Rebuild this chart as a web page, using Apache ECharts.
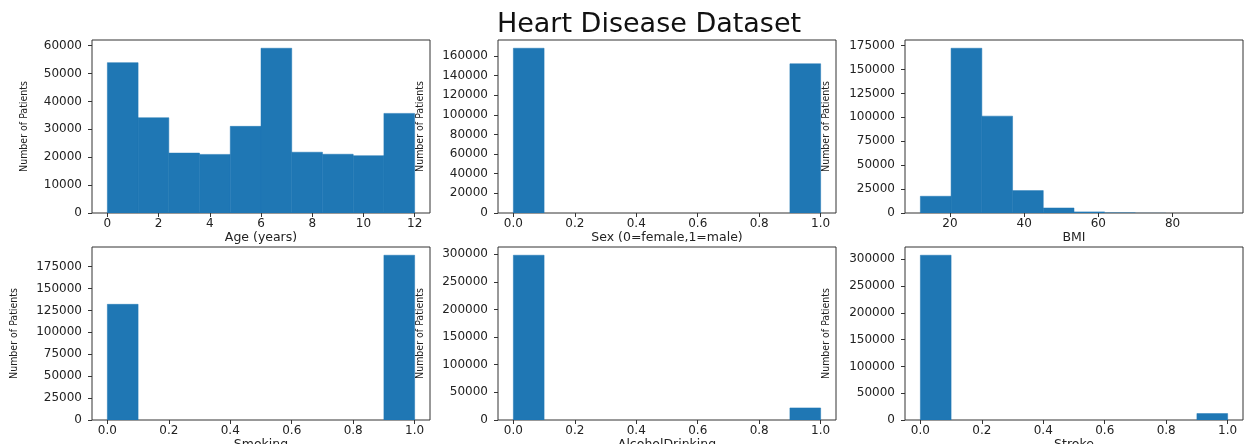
<!DOCTYPE html>
<html>
<head>
<meta charset="utf-8">
<script src="https://cdn.jsdelivr.net/npm/echarts@6/dist/echarts.min.js"></script>
<style>html,body{margin:0;padding:0;background:#fff}#c{width:1245px;height:444px}</style>
</head>
<body>
<div id="c"></div>
<script>
// ---- data ----
const titleText = 'Heart Disease Dataset';
const yName = 'Number of Patients';

const ageEdges = [0, 1.2, 2.4, 3.6, 4.8, 6.0, 7.2, 8.4, 9.6, 10.8, 12];
const ageCounts = [53910, 34151, 21482, 21006, 31065, 59068, 21791, 21064, 20550, 35708];
const ageTicksX = [0, 2, 4, 6, 8, 10, 12];
const ageTicksY = [0, 10000, 20000, 30000, 40000, 50000, 60000];

const binEdges = [0, 0.1, 0.2, 0.3, 0.4, 0.5, 0.6, 0.7, 0.8, 0.9, 1.0];
const binTicksX = [0, 0.2, 0.4, 0.6, 0.8, 1.0];

const sexCounts = [167805, 0, 0, 0, 0, 0, 0, 0, 0, 151990];
const sexTicksY = [0, 20000, 40000, 60000, 80000, 100000, 120000, 140000, 160000];

const bmiEdges = [12.02, 20.30, 28.59, 36.87, 45.15, 53.44, 61.72, 70.00, 78.28, 86.57, 94.85];
const bmiCounts = [17500, 172300, 101300, 23450, 5240, 1400, 500, 120, 30, 10];
const bmiTicksX = [20, 40, 60, 80];
const bmiTicksY = [0, 25000, 50000, 75000, 100000, 125000, 150000, 175000];

const smokingCounts = [131908, 0, 0, 0, 0, 0, 0, 0, 0, 187887];
const smokingTicksY = [0, 25000, 50000, 75000, 100000, 125000, 150000, 175000];

const alcoholCounts = [298018, 0, 0, 0, 0, 0, 0, 0, 0, 21777];
const alcoholTicksY = [0, 50000, 100000, 150000, 200000, 250000, 300000];

const strokeCounts = [307726, 0, 0, 0, 0, 0, 0, 0, 0, 12069];
const strokeTicksY = [0, 50000, 100000, 150000, 200000, 250000, 300000];

// ---- panels ----
const panels = [
  {edges: ageEdges, counts: ageCounts, xName: 'Age (years)', tx: ageTicksX, ty: ageTicksY, dec: 0},
  {edges: binEdges, counts: sexCounts, xName: 'Sex (0=female,1=male)', tx: binTicksX, ty: sexTicksY, dec: 1},
  {edges: bmiEdges, counts: bmiCounts, xName: 'BMI', tx: bmiTicksX, ty: bmiTicksY, dec: 0},
  {edges: binEdges, counts: smokingCounts, xName: 'Smoking', tx: binTicksX, ty: smokingTicksY, dec: 1},
  {edges: binEdges, counts: alcoholCounts, xName: 'AlcoholDrinking', tx: binTicksX, ty: alcoholTicksY, dec: 1},
  {edges: binEdges, counts: strokeCounts, xName: 'Stroke', tx: binTicksX, ty: strokeTicksY, dec: 1}
];

const colLeft = [92, 498, 905];
const colWidth = 338;
const rowTop = [40, 247];
const rowHeight = 173;
const yGaps = [62, 72, 73, 72, 72, 73];

const tickFont = 'DejaVu Sans';
const barColor = '#1f77b4';
const grids = [], xAxes = [], yAxes = [], series = [];

panels.forEach((p, i) => {
  const r = Math.floor(i / 3), c = i % 3;
  grids.push({
    left: colLeft[c], top: rowTop[r], width: colWidth, height: rowHeight,
    outerBoundsMode: 'none', containLabel: false,
    show: true, borderColor: '#333', borderWidth: 1, backgroundColor: 'transparent'
  });
  const lo = p.edges[0], hi = p.edges[p.edges.length - 1], span = hi - lo;
  const ymax = Math.max(...p.counts) * 1.05;
  xAxes.push({
    type: 'value', gridIndex: i, min: lo - 0.05 * span, max: hi + 0.05 * span,
    name: p.xName, nameLocation: 'middle', nameGap: 14,
    nameTextStyle: {fontFamily: tickFont, fontSize: 12.5, color: '#222'},
    axisLine: {show: false, onZero: false}, splitLine: {show: false},
    axisTick: {show: true, inside: false, length: 4, lineStyle: {color: '#333'}, customValues: p.tx},
    axisLabel: {customValues: p.tx, fontFamily: tickFont, fontSize: 12, color: '#222', margin: 5,
      formatter: v => Number(v).toFixed(p.dec)}
  });
  yAxes.push({
    type: 'value', gridIndex: i, min: 0, max: ymax,
    name: yName, nameLocation: 'middle', nameGap: yGaps[i], nameRotate: 90,
    nameTextStyle: {fontFamily: 'Liberation Sans Narrow, DejaVu Sans Condensed, sans-serif', fontSize: 10.5, color: '#222'},
    axisLine: {show: false, onZero: false}, splitLine: {show: false},
    axisTick: {show: true, inside: false, length: 4, lineStyle: {color: '#333'}, customValues: p.ty},
    axisLabel: {customValues: p.ty, fontFamily: tickFont, fontSize: 12, color: '#222', margin: 10,
      formatter: v => String(Math.round(v))}
  });
  const data = p.counts.map((v, k) => [p.edges[k], p.edges[k + 1], v]);
  series.push({
    type: 'custom', xAxisIndex: i, yAxisIndex: i, data: data, clip: true, silent: true,
    encode: {x: [0, 1], y: 2},
    renderItem: (params, api) => {
      if (api.value(2) <= 0) return null;
      const a = api.coord([api.value(0), api.value(2)]);
      const b = api.coord([api.value(1), 0]);
      const h = b[1] - a[1];
      const style = h >= 2 ? {fill: barColor, stroke: barColor, lineWidth: 0.5} : {fill: barColor};
      return {type: 'rect', shape: {x: a[0], y: a[1], width: b[0] - a[0], height: h}, style: style};
    }
  });
});

const chart = echarts.init(document.getElementById('c'), null, {renderer: 'canvas'});
chart.setOption({
  animation: false,
  backgroundColor: '#fff',
  graphic: [{
    type: 'text', x: 649, y: 25, silent: true,
    style: {text: titleText, align: 'center', verticalAlign: 'middle',
      font: '27px "DejaVu Sans"', fill: '#111'}
  }],
  grid: grids, xAxis: xAxes, yAxis: yAxes, series: series
});
</script>
</body>
</html>
